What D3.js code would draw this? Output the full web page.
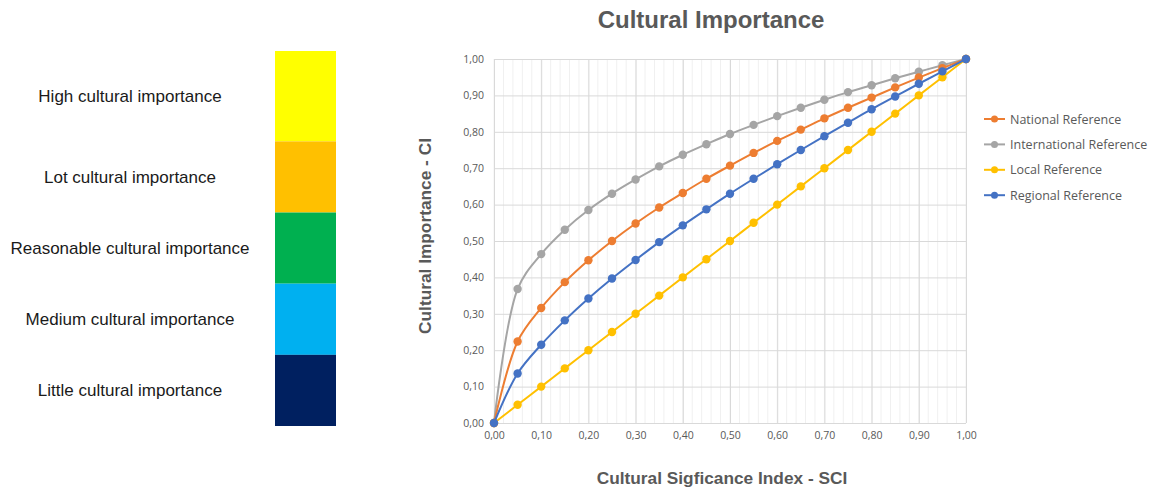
<!DOCTYPE html>
<html>
<head>
<meta charset="utf-8">
<script src="https://cdn.jsdelivr.net/npm/d3@7"></script>
<style>
  body { margin: 0; background: #fff; }
  svg { display: block; }
</style>
</head>
<body>
<svg></svg>
<script>
const width = 1155;
const height = 489;

// data
const sci = [0, 0.05, 0.10, 0.15, 0.20, 0.25, 0.30, 0.35, 0.40, 0.45, 0.50,
             0.55, 0.60, 0.65, 0.70, 0.75, 0.80, 0.85, 0.90, 0.95, 1.00];
const national = [0, 0.224, 0.316, 0.387, 0.447, 0.500, 0.548, 0.592, 0.632, 0.671, 0.707,
                  0.742, 0.775, 0.806, 0.837, 0.866, 0.894, 0.922, 0.949, 0.975, 1.00];
const international = [0, 0.368, 0.464, 0.531, 0.585, 0.630, 0.669, 0.705, 0.737, 0.766, 0.794,
                       0.819, 0.843, 0.866, 0.888, 0.909, 0.928, 0.947, 0.965, 0.983, 1.00];
const local = [0, 0.05, 0.10, 0.15, 0.20, 0.25, 0.30, 0.35, 0.40, 0.45, 0.50,
               0.55, 0.60, 0.65, 0.70, 0.75, 0.80, 0.85, 0.90, 0.95, 1.00];
const regional = [0, 0.136, 0.215, 0.282, 0.342, 0.397, 0.448, 0.497, 0.543, 0.587, 0.630,
                  0.671, 0.711, 0.750, 0.788, 0.825, 0.862, 0.897, 0.932, 0.966, 1.00];

const seriesNames = ["National Reference", "International Reference", "Local Reference", "Regional Reference"];
const seriesValues = [national, international, local, regional];
const seriesColors = ["#ED7D31", "#A5A5A5", "#FFC000", "#4472C4"];

const xTicks = [0, 0.1, 0.2, 0.3, 0.4, 0.5, 0.6, 0.7, 0.8, 0.9, 1.0];
const yTicks = [0, 0.1, 0.2, 0.3, 0.4, 0.5, 0.6, 0.7, 0.8, 0.9, 1.0];

const levels = ["High cultural importance", "Lot cultural importance", "Reasonable cultural importance",
                "Medium cultural importance", "Little cultural importance"];
const levelColors = ["#FFFF00", "#FFC000", "#00B050", "#00B0F0", "#002060"];
const levelWeights = [1.27, 1, 1, 1, 1];

const fmt = d => d3.format(".2f")(d).replace(".", ",");
const textColor = "#595959";

const svg = d3.select("svg")
  .attr("width", width)
  .attr("height", height);

// ---- left colour scale ----
const cum = [0];
levelWeights.forEach((w, i) => cum.push(cum[i] + w));
const levelScale = d3.scaleLinear()
  .domain([0, cum[cum.length - 1]])
  .range([51, 426]);

const levelG = svg.append("g");
levelG.selectAll("rect")
  .data(levels)
  .enter()
  .append("rect")
  .attr("x", 275)
  .attr("width", 61)
  .attr("y", (d, i) => levelScale(cum[i]))
  .attr("height", (d, i) => levelScale(cum[i + 1]) - levelScale(cum[i]))
  .attr("fill", (d, i) => levelColors[i]);

levelG.selectAll("text")
  .data(levels)
  .enter()
  .append("text")
  .attr("x", 130)
  .attr("y", (d, i) => (levelScale(cum[i]) + levelScale(cum[i + 1])) / 2 + 6)
  .attr("text-anchor", "middle")
  .style("font-family", "Liberation Sans, Arial, sans-serif")
  .style("font-size", "17px")
  .attr("fill", "#1a1a1a")
  .text(d => d);

// ---- line chart ----
const xScale = d3.scaleLinear().domain([0, 1]).range([494, 966]);
const yScale = d3.scaleLinear().domain([0, 1]).range([423, 59]);

// minor vertical gridlines
svg.append("g")
  .selectAll("line")
  .data(d3.range(0, 51).map(i => i / 50))
  .enter()
  .append("line")
  .attr("x1", d => xScale(d)).attr("x2", d => xScale(d))
  .attr("y1", yScale(0)).attr("y2", yScale(1))
  .attr("stroke", "#f0f0f0")
  .attr("stroke-width", 1);

const xAxis = d3.axisBottom(xScale)
  .tickValues(xTicks)
  .tickFormat(fmt)
  .tickSize(-(yScale(0) - yScale(1)))
  .tickPadding(9);

const yAxis = d3.axisLeft(yScale)
  .tickValues(yTicks)
  .tickFormat(fmt)
  .tickSize(-(xScale(1) - xScale(0)))
  .tickPadding(10);

const gx = svg.append("g")
  .attr("transform", `translate(0,${yScale(0)})`)
  .call(xAxis);
const gy = svg.append("g")
  .attr("transform", `translate(${xScale(0)},0)`)
  .call(yAxis);

[gx, gy].forEach(g => {
  g.select(".domain").remove();
  g.selectAll(".tick line").attr("stroke", "#d9d9d9");
  g.selectAll(".tick text")
    .attr("fill", textColor)
    .style("font-family", "Open Sans, sans-serif")
    .style("font-size", "10.5px");
});

const line = d3.line()
  .x((d, i) => xScale(sci[i]))
  .y(d => yScale(d))
  .curve(d3.curveCatmullRom.alpha(0.5));

// draw in order so blue ends on top at the end point
const drawOrder = [2, 1, 0, 3];
drawOrder.forEach(k => {
  const g = svg.append("g");
  g.append("path")
    .datum(seriesValues[k])
    .attr("fill", "none")
    .attr("stroke", seriesColors[k])
    .attr("stroke-width", 2)
    .attr("d", line);
  g.selectAll("circle")
    .data(seriesValues[k])
    .enter()
    .append("circle")
    .attr("cx", (d, i) => xScale(sci[i]))
    .attr("cy", d => yScale(d))
    .attr("r", 4.2)
    .attr("fill", seriesColors[k]);
});

// ---- titles ----
svg.append("text")
  .attr("x", 711)
  .attr("y", 28)
  .attr("text-anchor", "middle")
  .style("font-family", "Liberation Sans, Arial, sans-serif")
  .style("font-size", "24px")
  .style("font-weight", "bold")
  .attr("fill", textColor)
  .text("Cultural Importance");

svg.append("text")
  .attr("transform", "rotate(-90)")
  .attr("x", -236)
  .attr("y", 431)
  .attr("text-anchor", "middle")
  .style("font-family", "Liberation Sans, Arial, sans-serif")
  .style("font-size", "17.3px")
  .style("font-weight", "bold")
  .attr("fill", textColor)
  .text("Cultural Importance - CI");

svg.append("text")
  .attr("x", 722)
  .attr("y", 484)
  .attr("text-anchor", "middle")
  .style("font-family", "Liberation Sans, Arial, sans-serif")
  .style("font-size", "17.3px")
  .style("font-weight", "bold")
  .attr("fill", textColor)
  .text("Cultural Sigficance Index - SCI");

// ---- legend ----
const legend = svg.append("g")
  .selectAll("g")
  .data(seriesNames)
  .enter()
  .append("g")
  .attr("transform", (d, i) => `translate(984,${119 + i * 25.4})`);

legend.append("line")
  .attr("x1", 0).attr("x2", 21)
  .attr("stroke", (d, i) => seriesColors[i])
  .attr("stroke-width", 2);
legend.append("circle")
  .attr("cx", 10.5)
  .attr("r", 3.5)
  .attr("fill", (d, i) => seriesColors[i]);
legend.append("text")
  .attr("x", 26)
  .attr("y", 4.5)
  .style("font-family", "Open Sans, sans-serif")
  .style("font-size", "12.5px")
  .attr("fill", textColor)
  .text(d => d);
</script>
</body>
</html>
